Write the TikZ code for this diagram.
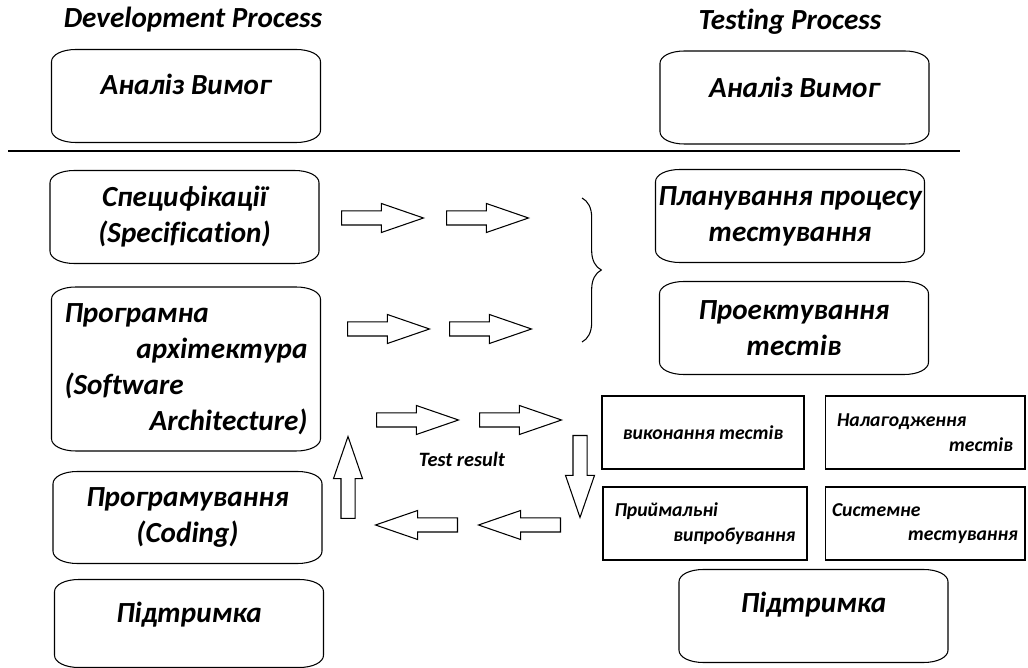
\documentclass[tikz,border=0pt]{standalone}
\usepackage{fontspec}
\setmainfont{Carlito}[Ligatures=NoCommon]
\usetikzlibrary{shapes.arrows,decorations.pathreplacing}

% outline with flat elliptic corners round a named node
\newcommand\roundbox[1]{%
  \draw ([xshift=14pt]#1.north west) -- ([xshift=-14pt]#1.north east)
    .. controls ([xshift=-6pt]#1.north east) and ([yshift=-3pt]#1.north east) .. ([yshift=-7pt]#1.north east)
    -- ([yshift=7pt]#1.south east)
    .. controls ([yshift=3pt]#1.south east) and ([xshift=-6pt]#1.south east) .. ([xshift=-14pt]#1.south east)
    -- ([xshift=14pt]#1.south west)
    .. controls ([xshift=6pt]#1.south west) and ([yshift=3pt]#1.south west) .. ([yshift=7pt]#1.south west)
    -- ([yshift=-7pt]#1.north west)
    .. controls ([yshift=-3pt]#1.north west) and ([xshift=6pt]#1.north west) .. ([xshift=14pt]#1.north west)
    -- cycle;}

\begin{document}
\begin{tikzpicture}[x=0.02cm, y=-0.02cm, line width=0.6pt,
  every node/.style={font=\bfseries\itshape\fontsize{16.6}{20}\selectfont},
  big/.style={font=\bfseries\itshape\fontsize{16.6}{20.5}\selectfont, align=center, inner sep=0pt, minimum width=5.36cm, minimum height=1.84cm},
  small/.style={draw, font=\bfseries\itshape\fontsize{11.2}{14}\selectfont, inner sep=0pt, minimum width=4cm, minimum height=1.46cm},
  barrow/.style={draw, single arrow, anchor=tail, inner xsep=0pt, inner ysep=0.13cm, minimum height=1.64cm,
    single arrow head extend=0.15cm, single arrow tip angle=38, single arrow head indent=0pt}]
  \useasboundingbox (0,0) rectangle (1028,668);
  % headings
  \node (devHead) at (193,20) {Development Process};
  \node (tstHead) at (790,22) {Testing Process};
  \draw[line width=0.8pt] (8,151) -- (960,151);
  % development side
  \node[big, text depth=13pt] (devReq) at (186,96) {Аналіз Вимог};
  \node[big] (devSpec) at (184.5,217) {Специфікації\\(Specification)};
  \node[big, minimum height=3.26cm, text width=4.86cm, align=left] (devArch) at (186,369)
    {Програмна\\\hspace*{\fill}архітектура\\(Software\\\hspace*{\fill}Architecture)};
  \node[big, minimum height=1.82cm] (devCode) at (187.5,517.5) {Програмування\\(Coding)};
  \node[big, minimum height=1.74cm, text depth=13pt] (devSup) at (189,623.5) {Підтримка};
  % testing side
  \node[big, text depth=12pt] (tstReq) at (794.5,97.5) {Аналіз Вимог};
  \node[big] (tstPlan) at (790,216) {Планування процесу\\тестування};
  \node[big] (tstDes) at (794,328) {Проектування\\тестів};
  \node[big, text depth=16pt] (tstSup) at (813.5,616) {Підтримка};
  \foreach \n in {devReq,devSpec,devArch,devCode,devSup,tstReq,tstPlan,tstDes,tstSup}
    {\roundbox{\n}}
  % test run boxes
  \node[small, minimum width=4.04cm, align=center] (exec) at (703,432.5) {виконання тестів};
  \node[small, text width=3.52cm, align=left] (debug) at (925,432.5) {Налагодження\\\hspace*{\fill}тестів};
  \node[small, minimum width=4.08cm, text width=3.62cm, align=left] (accept) at (705,523.5)
    {Приймальні\\\hspace*{\fill}випробування};
  \node[small, text width=3.72cm, align=left] (systest) at (925,523.5) {Системне\\\hspace*{\fill}тестування};
  % block arrows, placed by their tails
  \node[barrow] (a1) at (341,218) {};
  \node[barrow] (a2) at (446,218) {};
  \node[barrow] (a3) at (347,329) {};
  \node[barrow] (a4) at (449,329) {};
  \node[barrow] (a5) at (376,420) {};
  \node[barrow] (a6) at (479,420) {};
  \node[barrow, rotate=-90] (a7) at (580,435) {};
  \node[barrow, rotate=180] (a8) at (458,525) {};
  \node[barrow, rotate=180] (a9) at (561,525) {};
  \node[barrow, rotate=90] (a10) at (348,519) {};
  \node[font=\bfseries\itshape\fontsize{11.6}{13}\selectfont] (res) at (462,459) {Test result};
  \draw[decorate, decoration={brace, amplitude=11pt, aspect=0.5}] (582,198) -- (582,342);
\end{tikzpicture}
\end{document}
